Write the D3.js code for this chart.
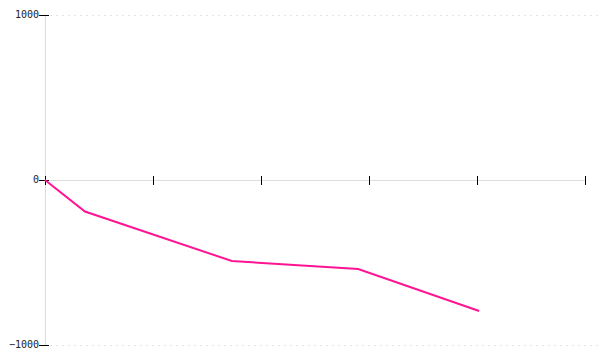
<!DOCTYPE html>
<html lang="en">
<head>
    <meta charset="UTF-8">
    <title>Line</title>
    <style>
        body { margin: 0; background: #fff; }
    </style>
</head>
<body>
    <svg id="chart" width="600" height="360"></svg>

    <script src="https://d3js.org/d3.v7.min.js"></script>
    <script>
        // values
        const xValues = [0, 0.37, 1.73, 2.9, 4.02];
        const yValues = [0, -191, -491, -539, -794];
        const xTicks = [0, 1, 2, 3, 4, 5];
        const yTicks = [-1000, 0, 1000];
        const yTickLabels = ["\u22121000", "0", "1000"];

        const svg = d3.select("#chart");

        const xScale = d3.scaleLinear()
            .domain([0, 5])
            .range([45, 585]);

        const yScale = d3.scaleLinear()
            .domain([-1000, 1000])
            .range([345, 15]);

        // vertical axis line
        svg.append("line")
            .attr("x1", xScale(0)).attr("x2", xScale(0))
            .attr("y1", yScale(1000)).attr("y2", yScale(-1000))
            .attr("stroke", "#ddd")
            .attr("shape-rendering", "crispEdges");

        // dotted grid at the outer ticks
        svg.selectAll(".grid")
            .data(yTicks.filter((v) => v !== 0))
            .enter()
            .append("line")
            .attr("x1", xScale(0) + 5).attr("x2", 600)
            .attr("y1", (v) => yScale(v)).attr("y2", (v) => yScale(v))
            .attr("stroke", "#e4e4e4")
            .attr("stroke-dasharray", "2,4")
            .attr("shape-rendering", "crispEdges");

        // horizontal zero axis
        svg.append("line")
            .attr("x1", xScale(0)).attr("x2", xScale(5))
            .attr("y1", yScale(0)).attr("y2", yScale(0))
            .attr("stroke", "#ddd")
            .attr("shape-rendering", "crispEdges");

        // x ticks (no labels)
        svg.selectAll(".xtick")
            .data(xTicks)
            .enter()
            .append("line")
            .attr("x1", (v) => xScale(v)).attr("x2", (v) => xScale(v))
            .attr("y1", yScale(0) - 4).attr("y2", yScale(0) + 5)
            .attr("stroke", "#000")
            .attr("shape-rendering", "crispEdges");

        // y ticks
        svg.selectAll(".ytick")
            .data(yTicks)
            .enter()
            .append("line")
            .attr("x1", xScale(0) - 6).attr("x2", xScale(0) + 4)
            .attr("y1", (v) => yScale(v)).attr("y2", (v) => yScale(v))
            .attr("stroke", "#000")
            .attr("shape-rendering", "crispEdges");

        svg.selectAll(".ylabel")
            .data(yTicks)
            .enter()
            .append("text")
            .attr("x", xScale(0) - 6)
            .attr("y", (v) => yScale(v))
            .attr("dy", "0.34em")
            .attr("text-anchor", "end")
            .attr("font-family", "'DejaVu Sans Mono', monospace")
            .attr("font-size", 10)
            .attr("fill", "#222")
            .text((v, i) => yTickLabels[i]);

        const line = d3.line()
            .x((d) => xScale(d[0]))
            .y((d) => yScale(d[1]));

        svg.append("path")
            .datum(xValues.map((v, i) => [v, yValues[i]]))
            .attr("d", line)
            .attr("fill", "none")
            .attr("stroke", "#ff1493")
            .attr("stroke-width", 2);
    </script>
</body>
</html>
